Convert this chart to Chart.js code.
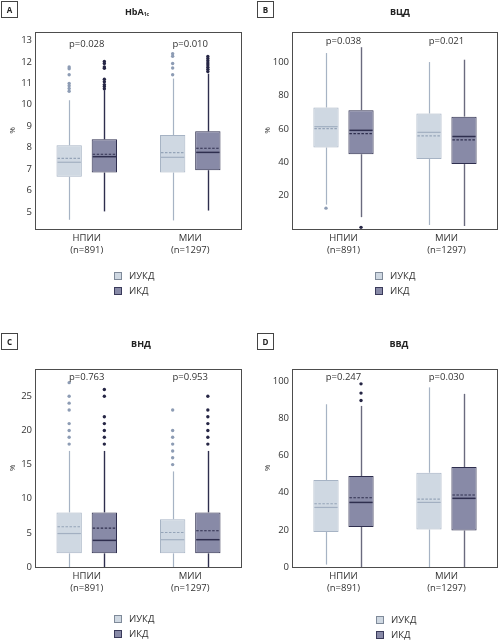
<!DOCTYPE html>
<html>
<head>
<meta charset="utf-8">
<script src="https://cdn.jsdelivr.net/npm/chart.js@4.4.1/dist/chart.umd.min.js"></script>
<style>
  body { margin: 0; background: #fff; font-family: 'Open Sans', sans-serif; color: #333; }
  #page { position: relative; width: 500px; height: 640px; overflow: hidden; }
  .panel { position: absolute; width: 250px; height: 320px; }
  .panel canvas { position: absolute; left: 0; top: 0; }
  .tag { position: absolute; width: 17px; height: 17px; border: 1px solid #444; box-sizing: border-box;
         font-size: 8px; font-weight: bold; line-height: 15px; text-align: center; color: #222; }
  .title { position: absolute; transform: translate(-50%, -50%); font-size: 9px; font-weight: bold;
           color: #222; white-space: nowrap; }
  .title sub { font-size: 5px; vertical-align: -1px; }
  .legend { position: absolute; font-size: 9.5px; color: #333; }
  .legend div { height: 14.5px; line-height: 8px; white-space: nowrap; }
  .legend span { display: inline-block; width: 8px; height: 8px; box-sizing: border-box;
                 vertical-align: top; margin-right: 7px; }
</style>
</head>
<body>
<div id="page"></div>
<script>
// categories and series
const groupLabels = [['НПИИ', '(n=891)'], ['МИИ', '(n=1297)']];
const seriesNames = ['ИУКД', 'ИКД'];

// every stat array: rows = ИУКД, ИКД; columns = НПИИ, МИИ
// A - HbA1c
const hbaQ1 = [[6.64, 6.84], [6.84, 6.95]];
const hbaQ3 = [[8.11, 8.59], [8.39, 8.76]];
const hbaMedian = [[7.32, 7.55], [7.58, 7.78]];
const hbaMean = [[7.50, 7.77], [7.69, 7.97]];
const hbaLow = [[4.64, 4.61], [5.03, 5.07]];
const hbaHigh = [[10.21, 11.22], [10.68, 11.45]];
const hbaOutliers = [
  [[11.76, 11.68, 11.4, 10.99, 10.88, 10.76, 10.63], [12.38, 12.26, 11.92, 11.71, 11.4]],
  [[12.02, 11.92, 11.76, 11.7, 11.19, 11.07, 10.94, 10.85, 10.74], [12.25, 12.15, 12.05, 11.95, 11.85, 11.75, 11.65, 11.55]]
];
const hbaTicks = [5, 6, 7, 8, 9, 10, 11, 12, 13];
const hbaP = ['p=0.028', 'p=0.010'];

// B - ВЦД
const vcdQ1 = [[48.8, 41.9], [44.8, 38.9]];
const vcdQ3 = [[72.8, 69.2], [71.2, 67.3]];
const vcdMedian = [[61.3, 57.9], [59.1, 55.4]];
const vcdMean = [[60.1, 55.8], [57.1, 53.4]];
const vcdLow = [[14.6, 2.4], [7.1, 1.8]];
const vcdHigh = [[105.4, 100], [108.9, 101.4]];
const vcdOutliers = [[[12.5], []], [[1], []]];
const vcdTicks = [20, 40, 60, 80, 100];
const vcdP = ['p=0.038', 'p=0.021'];

// C - ВНД
const vndQ1 = [[2, 2], [2, 2]];
const vndQ3 = [[8, 7], [8, 8]];
const vndMedian = [[4.9, 4], [3.9, 4]];
const vndMean = [[5.9, 5.05], [5.7, 5.3]];
const vndLow = [[0, 0], [0, 0]];
const vndHigh = [[17, 14], [17, 17]];
const vndOutliers = [
  [[27, 25, 24, 23, 21, 20, 19, 18], [23, 20, 19, 18, 17, 16, 15]],
  [[26, 25, 22, 21, 20, 19, 18], [25, 23, 22, 21, 20, 19, 18]]
];
const vndTicks = [0, 5, 10, 15, 20, 25];
const vndP = ['p=0.763', 'p=0.953'];

// D - ВВД
const vvdQ1 = [[18.9, 20.2], [21.6, 19.7]];
const vvdQ3 = [[46.9, 50.8], [49.0, 53.9]];
const vvdMedian = [[32.1, 34.8], [34.8, 37.0]];
const vvdMean = [[34.1, 36.6], [37.3, 38.8]];
const vvdLow = [[1.3, 0], [0, 0]];
const vvdHigh = [[87.7, 96.8], [86.8, 93.3]];
const vvdOutliers = [[[], []], [[98.7, 93.7, 89.7], []]];
const vvdTicks = [0, 20, 40, 60, 80, 100];
const vvdP = ['p=0.247', 'p=0.030'];

Chart.defaults.font.family = "'Open Sans', sans-serif";
Chart.defaults.color = '#333';

const boxFill = ['#cfd8e2', '#888aa7'];
const boxBorder = ['#a6b3c4', '#2e2e4e'];
const medianColor = ['#a2afc1', '#2e2e4e'];
const meanColor = ['#95a4b8', '#2e2e4e'];
const outlierColor = ['#8d9cb4', '#262645'];
const legendBorder = ['#7f8a99', '#3a3a5a'];

const panels = [
  { letter: 'A', title: 'HbA<sub>1c</sub>', left: 0, top: 0, titleX: 137, titleY: 11, tagX: 1, tagY: 1,
    area: { left: 35, right: 242, top: 32, bottom: 229 }, min: 4.21, max: 13.39, pOffset: 12, yTitleX: 13,
    legendX: 114, legendY: 272, darkWhisker: '#2e2e4e',
    q1: hbaQ1, q3: hbaQ3, median: hbaMedian, mean: hbaMean, low: hbaLow, high: hbaHigh,
    outliers: hbaOutliers, ticks: hbaTicks, p: hbaP },
  { letter: 'B', title: 'ВЦД', left: 250, top: 0, titleX: 150, titleY: 11, tagX: 7, tagY: 1,
    area: { left: 42, right: 248, top: 32, bottom: 229 }, min: 0, max: 118, pOffset: 9, yTitleX: 18,
    legendX: 125, legendY: 272, darkWhisker: '#6a6a7e',
    q1: vcdQ1, q3: vcdQ3, median: vcdMedian, mean: vcdMean, low: vcdLow, high: vcdHigh,
    outliers: vcdOutliers, ticks: vcdTicks, p: vcdP },
  { letter: 'C', title: 'ВНД', left: 0, top: 320, titleX: 141, titleY: 23, tagX: 1, tagY: 13,
    area: { left: 35, right: 242, top: 49, bottom: 247 }, min: 0, max: 29, pOffset: 8, yTitleX: 13,
    legendX: 114, legendY: 295, darkWhisker: '#2e2e4e',
    q1: vndQ1, q3: vndQ3, median: vndMedian, mean: vndMean, low: vndLow, high: vndHigh,
    outliers: vndOutliers, ticks: vndTicks, p: vndP },
  { letter: 'D', title: 'ВВД', left: 250, top: 320, titleX: 149, titleY: 23, tagX: 7, tagY: 13,
    area: { left: 42, right: 248, top: 49, bottom: 247 }, min: 0, max: 106.7, pOffset: 8, yTitleX: 18,
    legendX: 126, legendY: 296, darkWhisker: '#6a6a7e',
    q1: vvdQ1, q3: vvdQ3, median: vvdMedian, mean: vvdMean, low: vvdLow, high: vvdHigh,
    outliers: vvdOutliers, ticks: vvdTicks, p: vvdP }
];

const CANVAS_H = 300;
const X_AXIS_H = 40;

function hline(ctx, x1, x2, y) {
  ctx.beginPath(); ctx.moveTo(x1, y); ctx.lineTo(x2, y); ctx.stroke();
}
function vline(ctx, x, y1, y2) {
  ctx.beginPath(); ctx.moveTo(x, y1); ctx.lineTo(x, y2); ctx.stroke();
}

// whiskers, medians, means, outliers, p-values and the frame
function boxExtras(p) {
  return {
    id: 'boxExtras',
    afterDatasetsDraw(chart) {
      const ctx = chart.ctx;
      const y = chart.scales.y;
      const xs = chart.scales.x;
      const area = chart.chartArea;
      ctx.save();
      for (let s = 0; s < 2; s++) {
        chart.getDatasetMeta(s).data.forEach((bar, g) => {
          const x = Math.round(bar.x) + 0.5;
          const x1 = bar.x - bar.width / 2 + 1;
          const x2 = bar.x + bar.width / 2 - 1;
          ctx.setLineDash([]);
          ctx.strokeStyle = s === 0 ? boxBorder[0] : p.darkWhisker;
          ctx.lineWidth = s === 0 ? 1.2 : 1.4;
          vline(ctx, x, y.getPixelForValue(p.q3[s][g]), y.getPixelForValue(p.high[s][g]));
          vline(ctx, x, y.getPixelForValue(p.q1[s][g]), y.getPixelForValue(p.low[s][g]));

          ctx.strokeStyle = medianColor[s];
          ctx.lineWidth = s === 0 ? 1.2 : 1.5;
          hline(ctx, x1, x2, y.getPixelForValue(p.median[s][g]));

          ctx.strokeStyle = meanColor[s];
          ctx.lineWidth = 1.1;
          ctx.setLineDash([2.5, 1.5]);
          hline(ctx, x1, x2, y.getPixelForValue(p.mean[s][g]));
          ctx.setLineDash([]);

          ctx.fillStyle = outlierColor[s];
          p.outliers[s][g].forEach(v => {
            ctx.beginPath();
            ctx.arc(bar.x, y.getPixelForValue(v), 1.7, 0, Math.PI * 2);
            ctx.fill();
          });
        });
      }
      ctx.fillStyle = '#333';
      ctx.font = "9.5px 'Open Sans', sans-serif";
      ctx.textAlign = 'center';
      ctx.textBaseline = 'middle';
      p.p.forEach((txt, g) => ctx.fillText(txt, xs.getPixelForTick(g), area.top + p.pOffset));

      ctx.strokeStyle = '#4d4d4d';
      ctx.lineWidth = 1;
      ctx.strokeRect(Math.round(area.left) + 0.5, Math.round(area.top) + 0.5,
        Math.round(area.right - area.left) - 1, Math.round(area.bottom - area.top));
      ctx.restore();
    }
  };
}

const page = document.getElementById('page');

panels.forEach((p, i) => {
  const div = document.createElement('div');
  div.className = 'panel';
  div.style.left = p.left + 'px';
  div.style.top = p.top + 'px';
  div.innerHTML =
    `<canvas id="c${i}" width="250" height="${CANVAS_H}"></canvas>` +
    `<div class="tag" style="left:${p.tagX}px;top:${p.tagY}px">${p.letter}</div>` +
    `<div class="title" style="left:${p.titleX}px;top:${p.titleY}px">${p.title}</div>` +
    `<div class="legend" style="left:${p.legendX}px;top:${p.legendY}px">` +
    seriesNames.map((n, s) =>
      `<div><span style="background:${boxFill[s]};border:1px solid ${legendBorder[s]}"></span>${n}</div>`).join('') +
    `</div>`;
  page.appendChild(div);

  new Chart(document.getElementById('c' + i), {
    type: 'bar',
    data: {
      labels: groupLabels,
      datasets: seriesNames.map((name, s) => ({
        label: name,
        data: p.q1[s].map((q, g) => [q, p.q3[s][g]]),
        backgroundColor: boxFill[s],
        borderColor: boxBorder[s],
        borderWidth: 1,
        borderSkipped: false,
        barPercentage: 0.72,
        categoryPercentage: 0.68
      }))
    },
    options: {
      responsive: false,
      animation: false,
      layout: {
        padding: {
          left: 0,
          right: 250 - p.area.right,
          top: p.area.top,
          bottom: CANVAS_H - p.area.bottom - X_AXIS_H
        }
      },
      plugins: { legend: { display: false }, tooltip: { enabled: false } },
      scales: {
        x: {
          grid: { display: false, drawTicks: false },
          border: { display: false },
          ticks: { padding: 4, font: { size: 9.5 }, color: '#333' },
          afterFit(scale) { scale.height = X_AXIS_H; }
        },
        y: {
          min: p.min,
          max: p.max,
          grid: { display: false, drawTicks: false },
          border: { display: false },
          ticks: { padding: 3, font: { size: 9.5 }, color: '#333' },
          title: { display: true, text: '%', font: { size: 8 }, color: '#333',
                   padding: { top: p.yTitleX - 4.8, bottom: 0 } },
          afterBuildTicks(scale) { scale.ticks = p.ticks.map(v => ({ value: v })); },
          afterFit(scale) { scale.width = p.area.left; }
        }
      }
    },
    plugins: [boxExtras(p)]
  });
});
</script>
</body>
</html>
